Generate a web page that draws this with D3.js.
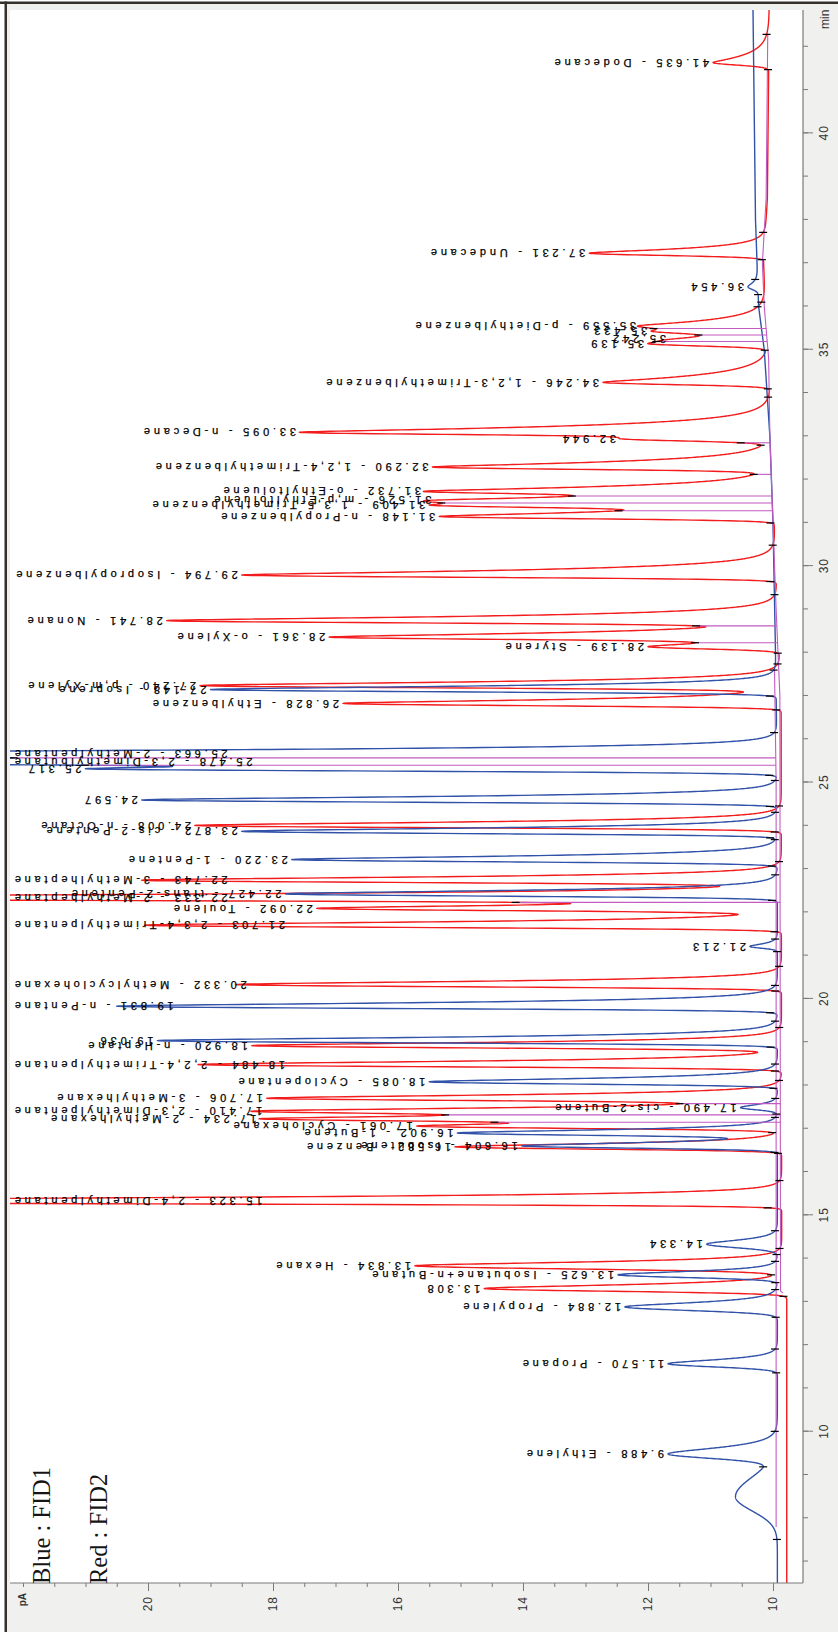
<!DOCTYPE html>
<html><head><meta charset="utf-8">
<script src="https://cdn.jsdelivr.net/npm/d3@7"></script>
<style>body{margin:0;background:#fff}svg{display:block}</style>
</head><body>
<svg id="c" width="838" height="1632"></svg>
<script>
// ---------------- DATA ----------------
const timeTicksMajor = [10, 15, 20, 25, 30, 35, 40];
const timeTicksMinor = [7,8,9,10,11,12,13,14,15,16,17,18,19,20,21,22,23,24,25,26,27,28,29,30,31,32,33,34,35,36,37,38,39,40,41,42];
const pATicksMajor = [10, 12, 14, 16, 18, 20];
const pATicksMinor = [10,10.5,11,11.5,12,12.5,13,13.5,14,14.5,15,15.5,16,16.5,17,17.5,18,18.5,19,19.5,20,20.5,21,21.5,22];

// baselines (min, pA)
const blueBaseT = [6.5, 25.0, 28.0, 31.0, 33.0, 35.0, 36.0, 38.0, 42.85];
const blueBaseV = [9.93, 9.93, 9.96, 10.0, 10.05, 10.14, 10.23, 10.28, 10.32];
const redBaseT  = [6.5, 13.15, 13.25, 27.0, 29.0, 31.0, 33.0, 34.8, 36.0, 37.0, 38.5, 42.85];
const redBaseV  = [9.78, 9.78, 9.86, 9.87, 9.93, 9.98, 10.03, 10.05, 10.12, 10.15, 10.09, 10.06];

// FID1 (blue) peaks: retention time, apex (pA), name (null = no label, "" = time only)
const blueRT     = [8.50, 9.488, 11.570, 12.884, 13.625, 14.334, 16.604, 16.902, 17.490, 18.085, 19.036, 19.831, 21.213, 22.427, 23.220, 23.872, 24.597, 25.317, 25.478, 25.663, 27.148, 36.454];
const blueHeight = [10.60, 11.68, 11.68, 12.37, 12.48, 11.06, 14.02, 15.05, 10.52, 15.50, 19.85, 20.50, 10.37, 17.80, 17.70, 18.50, 20.10, 21.00, 30.0, 30.0, 19.00, 10.40];
const blueName   = [null, "Ethylene", "Propane", "Propylene", "Isobutane+n-Butane", "", "Isobutene", "1-Butene", "cis-2-Butene", "Cyclopentane", "", "n-Pentane", "", "trans-2-Pentene", "1-Pentene", "cis-2-Pentene", "", "", "2,3-Dimethylbutane", "2-Methylpentane", "Isoprene", ""];
const blueSF  = [0.33, 0.10, 0.07, 0.08, 0.06, 0.08, 0.05, 0.05, 0.05, 0.05, 0.05, 0.05, 0.04, 0.05, 0.05, 0.05, 0.05, 0.05, 0.05, 0.05, 0.05, 0.06];
const blueSB  = [0.45, 0.10, 0.07, 0.07, 0.06, 0.07, 0.05, 0.05, 0.05, 0.05, 0.05, 0.05, 0.04, 0.05, 0.05, 0.05, 0.05, 0.05, 0.05, 0.05, 0.05, 0.06];
const blueTau = [0.00, 0.10, 0.06, 0.07, 0.05, 0.06, 0.06, 0.06, 0.05, 0.07, 0.07, 0.075, 0.05, 0.07, 0.075, 0.07, 0.07, 0.07, 0.07, 0.07, 0.07, 0.08];

// FID2 (red) peaks
const redRT     = [13.308, 13.834, 15.323, 16.582, 17.061, 17.234, 17.410, 17.706, 18.484, 18.920, 20.332, 21.703, 22.092, 22.333, 22.743, 24.008, 26.828, 27.240, 28.139, 28.361, 28.741, 29.794, 31.148, 31.409, 31.526, 31.732, 32.290, 32.944, 33.095, 34.246, 35.139, 35.242, 35.433, 35.559, 37.231, 41.635];
const redHeight = [14.62, 15.73, 30.0, 15.09, 15.70, 18.20, 18.30, 18.10, 19.20, 18.34, 18.60, 20.05, 17.30, 30.0, 20.10, 19.25, 16.88, 19.17, 12.00, 17.10, 19.70, 18.50, 15.34, 15.50, 15.40, 15.57, 15.45, 12.45, 17.57, 12.72, 12.00, 11.65, 11.95, 12.13, 12.94, 10.96];
const redName   = ["", "Hexane", "2,4-Dimethylpentane", "Benzene", "Cyclohexane", "2-Methylhexane", "2,3-Dimethylpentane", "3-Methylhexane", "2,2,4-Trimethylpentane", "n-Heptane", "Methylcyclohexane", "2,3,4-Trimethylpentane", "Toulene", "2-Methylheptane", "3-Methylheptane", "n-Octane", "Ethylbenzene", "p,m-Xylene", "Styrene", "o-Xylene", "Nonane", "Isopropylbenzene", "n-Propylbenzene", "1,3,5-Trimethylbenzene", "m,p-Ethyltoluene", "o-Ethyltoluene", "1,2,4-Trimethylbenzene", "", "n-Decane", "1,2,3-Trimethylbenzene", "", "", "", "p-Diethylbenzene", "Undecane", "Dodecane"];
const redSF  = [0.06, 0.07, 0.05, 0.05, 0.05, 0.05, 0.05, 0.05, 0.05, 0.05, 0.05, 0.05, 0.05, 0.05, 0.05, 0.05, 0.05, 0.05, 0.05, 0.05, 0.05, 0.05, 0.05, 0.05, 0.05, 0.05, 0.05, 0.05, 0.05, 0.05, 0.05, 0.05, 0.05, 0.05, 0.05, 0.055];
const redSB  = [0.06, 0.06, 0.05, 0.05, 0.05, 0.05, 0.05, 0.05, 0.05, 0.05, 0.05, 0.05, 0.05, 0.05, 0.05, 0.05, 0.05, 0.05, 0.05, 0.05, 0.05, 0.05, 0.05, 0.05, 0.05, 0.05, 0.05, 0.05, 0.05, 0.05, 0.05, 0.05, 0.05, 0.05, 0.05, 0.05];
const redTau = [0.06, 0.06, 0.065, 0.065, 0.065, 0.065, 0.065, 0.065, 0.065, 0.065, 0.065, 0.065, 0.065, 0.065, 0.065, 0.07, 0.08, 0.08, 0.09, 0.10, 0.10, 0.12, 0.12, 0.12, 0.12, 0.12, 0.13, 0.10, 0.15, 0.18, 0.15, 0.15, 0.15, 0.15, 0.10, 0.20];

// integration drop lines (min)
const blueDrops = [25.40, 25.57];
const redDrops  = [17.15, 17.32, 17.58, 22.23, 28.23, 28.62, 31.28, 31.46, 31.62, 32.12, 32.85, 35.19, 35.34, 35.49];
const blueIntRange = [7.8, 27.6];
const redIntRange  = [13.2, 42.3];

// ---------------- DRAW ----------------
const svg = d3.select('#c');
svg.append('rect').attr('width', 838).attr('height', 1632).attr('fill', '#fff');
svg.append('rect').attr('x', 7).attr('y', 4).attr('width', 831).attr('height', 1628).attr('fill', '#f0f0ef');
svg.append('rect').attr('x', 10).attr('y', 10).attr('width', 793).attr('height', 1573).attr('fill', '#fff');
svg.append('rect').attr('x', 0).attr('y', 1.5).attr('width', 838).attr('height', 2.5).attr('fill', '#35302c');
svg.append('rect').attr('x', 4.5).attr('y', 1.5).attr('width', 2.5).attr('height', 1630.5).attr('fill', '#35302c');

// landscape chart rotated -90deg
const g = svg.append('g').attr('transform', 'translate(0,1632) rotate(-90)');
const x = d3.scaleLinear().domain([6.504, 42.85]).range([49, 1622]);
const y = d3.scaleLinear().domain([9.52, 22.208]).range([803, 10]);

g.append('clipPath').attr('id', 'plotclip').append('rect')
  .attr('x', 49).attr('y', 10).attr('width', 1573).attr('height', 793);

function shape(dt, sf, sb, tau) {
  if (dt < 0) return Math.exp(-dt * dt / (2 * sf * sf));
  return Math.exp(-dt * dt / (2 * sb * sb + tau * dt));
}

function buildChannel(rt, h, sf, sb, tau, baseT, baseV) {
  const base = d3.scaleLinear().domain(baseT).range(baseV).clamp(true);
  const n = rt.length;
  const amp = rt.map((t, i) => h[i] - base(t));
  for (let it = 0; it < 8; it++) {
    for (let i = 0; i < n; i++) {
      let s = 0;
      for (let j = 0; j < n; j++) if (j !== i) s += amp[j] * shape(rt[i] - rt[j], sf[j], sb[j], tau[j]);
      amp[i] = Math.max(0.02, h[i] - base(rt[i]) - s);
    }
  }
  const f = t => {
    let v = base(t);
    for (let j = 0; j < n; j++) {
      const d = t - rt[j];
      if (d < -1.5 || d > 3) continue;
      v += amp[j] * shape(d, sf[j], sb[j], tau[j]);
    }
    return v;
  };
  return { f, amp, base };
}

const blue = buildChannel(blueRT, blueHeight, blueSF, blueSB, blueTau, blueBaseT, blueBaseV);
const red  = buildChannel(redRT, redHeight, redSF, redSB, redTau, redBaseT, redBaseV);

const [t0, t1] = x.domain();
const samples = d3.range(t0, t1, 0.004);
function tracePoints(ch, rts) {
  const ts = samples.concat(rts).sort((a, b) => a - b);
  return ts.map(t => [t, ch.f(t)]);
}
const line = d3.line().x(d => x(d[0])).y(d => y(d[1]));

const BLUE = '#3152a8', RED = '#f31c1c', MAG = '#c25bc2';
const plot = g.append('g').attr('clip-path', 'url(#plotclip)');

plot.append('path').attr('d', line(tracePoints(red, redRT))).attr('fill', 'none')
  .attr('stroke', RED).attr('stroke-width', 1.4).attr('stroke-linejoin', 'round');
plot.append('path').attr('d', line(tracePoints(blue, blueRT))).attr('fill', 'none')
  .attr('stroke', BLUE).attr('stroke-width', 1.4).attr('stroke-linejoin', 'round');

// integration baselines + drop lines
function drawIntegration(ch, range, drops) {
  const pts = d3.range(range[0], range[1], 0.05).concat([range[1]]).map(t => [t, ch.base(t) + 0.02]);
  plot.append('path').attr('d', line(pts)).attr('fill', 'none').attr('stroke', MAG).attr('stroke-width', 1.1);
  drops.forEach(t => {
    plot.append('line').attr('x1', x(t)).attr('x2', x(t))
      .attr('y1', y(ch.base(t) + 0.02)).attr('y2', y(ch.f(t)))
      .attr('stroke', MAG).attr('stroke-width', 1.1);
  });
}
drawIntegration(blue, blueIntRange, blueDrops);
drawIntegration(red, redIntRange, redDrops);

// event markers (peak start / end) in black
function drawMarkers(ch, rt, sf, sb, tau, drops) {
  const ms = [];
  rt.forEach((t, i) => {
    const ts = t - 3 * sf[i];
    let dt = 0;
    while (dt < 2.5 && ch.amp[i] * shape(dt, sf[i], sb[i], tau[i]) > 0.04) dt += 0.01;
    [ts, t + dt].forEach(m => { if (ch.f(m) - ch.base(m) < 0.25) ms.push(m); });
  });
  drops.forEach(m => ms.push(m));
  ms.forEach(m => {
    const v = ch.f(m);
    plot.append('line').attr('x1', x(m)).attr('x2', x(m))
      .attr('y1', y(v) - 4).attr('y2', y(v) + 4)
      .attr('stroke', '#000').attr('stroke-width', 1.2);
  });
}
drawMarkers(blue, blueRT, blueSF, blueSB, blueTau, blueDrops);
drawMarkers(red, redRT, redSF, redSB, redTau, redDrops);

// peak labels
const labelG = g.append('g').attr('font-family', 'Liberation Sans, Arial, sans-serif')
  .attr('font-size', 11).attr('letter-spacing', '3.8px').attr('fill', '#000')
  .attr('stroke', '#000').attr('stroke-width', 0.25);
function drawLabels(rt, h, names) {
  rt.forEach((t, i) => {
    if (names[i] === null) return;
    const txt = t.toFixed(3) + (names[i] ? ' - ' + names[i] : '');
    const el = labelG.append('text').attr('dy', '0.35em').text(txt);
    const len = el.node().getComputedTextLength();
    const apexY = y(Math.min(h[i], 40));
    const start = Math.max(apexY - 4, 11 + len);
    el.attr('transform', `translate(${x(t)},${start}) rotate(-90)`);
  });
}
drawLabels(blueRT, blueHeight, blueName);
drawLabels(redRT, redHeight, redName);

// axes
const AX = '#7a7a7a';
function styleAxis(sel) {
  sel.select('.domain').remove();
  sel.selectAll('line').attr('stroke', AX);
  sel.selectAll('text').attr('font-family', 'Liberation Sans, Arial, sans-serif')
    .attr('font-size', 12).attr('fill', '#333').attr('letter-spacing', '1px');
}
const xMinor = g.append('g').attr('transform', 'translate(0,803)')
  .call(d3.axisBottom(x).tickValues(timeTicksMinor).tickSize(5).tickFormat(''));
styleAxis(xMinor);
const xMajor = g.append('g').attr('transform', 'translate(0,803)')
  .call(d3.axisBottom(x).tickValues(timeTicksMajor).tickSize(10).tickPadding(6).tickFormat(d3.format('d')));
styleAxis(xMajor);
const yMinor = g.append('g').attr('transform', 'translate(49,0)')
  .call(d3.axisLeft(y).tickValues(pATicksMinor).tickSize(4).tickFormat(''));
styleAxis(yMinor);
const yMajor = g.append('g').attr('transform', 'translate(49,0)')
  .call(d3.axisLeft(y).tickValues(pATicksMajor).tickSize(8).tickPadding(5).tickFormat(d3.format('d')));
styleAxis(yMajor);

g.append('line').attr('x1', 49).attr('x2', 1622).attr('y1', 803).attr('y2', 803).attr('stroke', AX).attr('stroke-width', 1.2);
g.append('line').attr('x1', 49).attr('x2', 49).attr('y1', 10).attr('y2', 803).attr('stroke', AX).attr('stroke-width', 1.2);

g.append('text').attr('x', 1603).attr('y', 829).text('min')
  .attr('font-family', 'Liberation Sans, Arial, sans-serif').attr('font-size', 12).attr('fill', '#333');
g.append('text').attr('x', 39).attr('y', 26).attr('text-anchor', 'end').text('pA')
  .attr('font-family', 'Liberation Sans, Arial, sans-serif').attr('font-size', 10).attr('font-weight', 'bold').attr('fill', '#333');

// legend
const legG = g.append('g').attr('font-family', 'Liberation Serif, Times New Roman, serif')
  .attr('font-size', 24.5).attr('fill', '#151515');
legG.append('text').attr('x', 48).attr('y', 50).text('Blue : FID1');
legG.append('text').attr('x', 48).attr('y', 107).text('Red : FID2');
</script>
</body></html>
